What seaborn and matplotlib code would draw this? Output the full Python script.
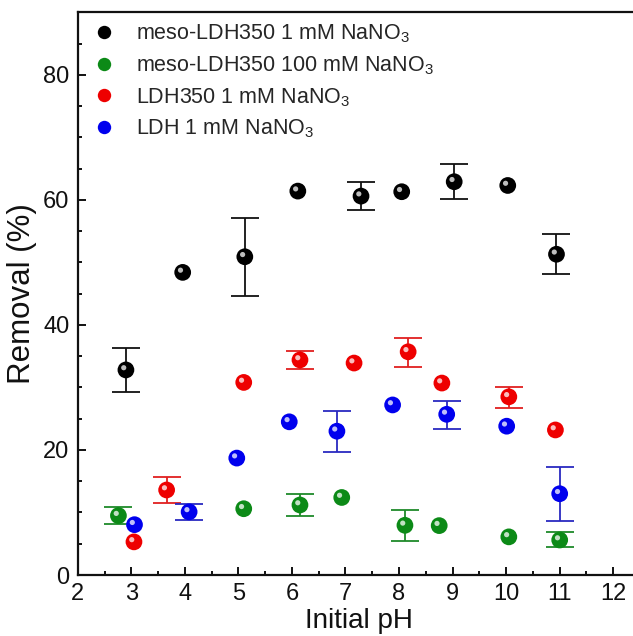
import numpy as np
import pandas as pd
import matplotlib
matplotlib.use("Agg")
import matplotlib.pyplot as plt
import matplotlib.transforms as mtransforms
from matplotlib.ticker import MultipleLocator
import seaborn as sns

nan = np.nan

# ---- data ----
labels = [r"meso-LDH350 1 mM NaNO$_3$", r"meso-LDH350 100 mM NaNO$_3$",
          r"LDH350 1 mM NaNO$_3$", r"LDH 1 mM NaNO$_3$"]

black_x = [2.90, 3.96, 5.12, 6.11, 7.29, 8.05, 9.03, 10.03, 10.94]
black_y = [32.8, 48.4, 50.9, 61.4, 60.6, 61.3, 62.9, 62.3, 51.3]
black_lo = [29.2, nan, 44.7, nan, 58.4, nan, 60.1, nan, 48.1]
black_hi = [36.3, nan, 57.1, nan, 62.8, nan, 65.8, nan, 54.5]

green_x = [2.76, 5.10, 6.15, 6.93, 8.11, 8.75, 10.05, 11.00]
green_y = [9.5, 10.6, 11.2, 12.4, 7.95, 7.9, 6.1, 5.6]
green_lo = [8.1, nan, 9.4, nan, 5.5, nan, nan, 4.4]
green_hi = [10.9, nan, 13.0, nan, 10.35, nan, nan, 6.8]

red_x = [3.05, 3.66, 5.10, 6.15, 7.16, 8.17, 8.80, 10.05, 10.92]
red_y = [5.3, 13.6, 30.8, 34.4, 33.9, 35.7, 30.7, 28.5, 23.2]
red_lo = [nan, 11.5, nan, 32.9, nan, 33.3, nan, 26.7, nan]
red_hi = [nan, 15.7, nan, 35.8, nan, 37.9, nan, 30.1, nan]

blue_x = [3.06, 4.08, 4.97, 5.95, 6.84, 7.88, 8.89, 10.01, 11.00]
blue_y = [8.05, 10.1, 18.7, 24.5, 23.0, 27.2, 25.7, 23.8, 13.0]
blue_lo = [nan, 8.85, nan, nan, 19.6, nan, 23.4, nan, 8.7]
blue_hi = [nan, 11.4, nan, nan, 26.3, nan, 27.8, nan, 17.2]

x_ticks = [2, 3, 4, 5, 6, 7, 8, 9, 10, 11, 12]
y_ticks = [0, 20, 40, 60, 80]

series = [
    (labels[0], black_x, black_y, black_lo, black_hi, "#000000", "#111111"),
    (labels[1], green_x, green_y, green_lo, green_hi, "#0c8a17", "#1f8a2a"),
    (labels[2], red_x, red_y, red_lo, red_hi, "#ee0000", "#e02020"),
    (labels[3], blue_x, blue_y, blue_lo, blue_hi, "#0000ee", "#2a2ac0"),
]

frames = []
for lab, xs, ys, lo, hi, col, ecol in series:
    frames.append(pd.DataFrame({"pH": xs, "Removal": ys, "lo": lo, "hi": hi, "series": lab}))
df = pd.concat(frames, ignore_index=True)

sns.set_theme(style="white")
plt.rcParams["font.family"] = ["Liberation Sans", "DejaVu Sans"]
plt.rcParams["mathtext.fontset"] = "custom"
plt.rcParams["mathtext.rm"] = "Liberation Sans"
plt.rcParams["mathtext.it"] = "Liberation Sans:italic"

fig = plt.figure(figsize=(6.33, 6.36), dpi=100)
ax = fig.add_axes([0.1228, 0.0959, 0.8883, 0.8848])

palette = {s[0]: s[5] for s in series}

# error bars
for lab, xs, ys, lo, hi, col, ecol in series:
    sub = df[(df["series"] == lab) & df["lo"].notna()]
    yerr = np.vstack([sub["Removal"] - sub["lo"], sub["hi"] - sub["Removal"]])
    ax.errorbar(sub["pH"], sub["Removal"], yerr=yerr, fmt="none", ecolor=ecol,
                elinewidth=1.3, capsize=10, capthick=1.3, zorder=2)

# sphere-like markers
sns.scatterplot(data=df, x="pH", y="Removal", hue="series", palette=palette,
                s=145, edgecolor="none", linewidth=0, ax=ax, zorder=3, legend=True)
offset = mtransforms.ScaledTranslation(-2.2 / 100, 2.2 / 100, fig.dpi_scale_trans)
ax.scatter(df["pH"], df["Removal"], s=14, color="white", alpha=0.75,
           edgecolor="none", transform=ax.transData + offset, zorder=4)

ax.set_xlim(2, 12.5)
ax.set_ylim(0, 90)
ax.set_xticks(x_ticks)
ax.set_yticks(y_ticks)
ax.xaxis.set_minor_locator(MultipleLocator(0.5))
ax.yaxis.set_minor_locator(MultipleLocator(5))
ax.tick_params(which="both", direction="in", labelsize=17, colors="#111111",
               bottom=True, left=True, top=False, right=False)
ax.tick_params(which="major", length=6, width=1.4, pad=6)
ax.tick_params(which="minor", length=3, width=1.4)
for sp in ax.spines.values():
    sp.set_linewidth(1.6)
    sp.set_color("#111111")

ax.set_xlabel("Initial pH", fontsize=20, labelpad=2, color="#111111")
ax.set_ylabel("Removal (%)", fontsize=22.5, labelpad=4, color="#111111")

handles, labs = ax.get_legend_handles_labels()
leg = ax.legend(handles, labs, loc="upper left", bbox_to_anchor=(0.01, 0.995),
                frameon=False, fontsize=15.5,
                handletextpad=0.9, labelspacing=0.42, borderaxespad=0.05,
                borderpad=0.3, handlelength=1.2, markerscale=0.8)

fig.savefig("out.png", dpi=100)
